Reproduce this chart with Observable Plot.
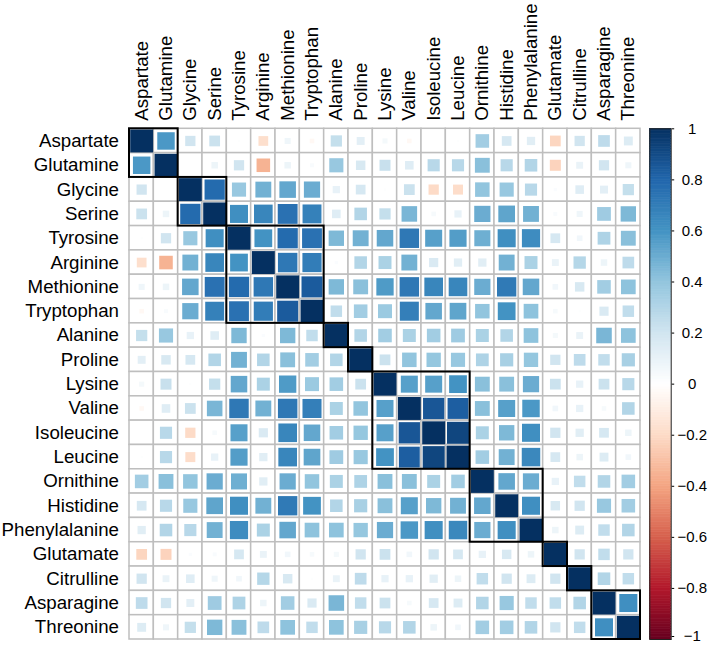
<!DOCTYPE html>
<html><head><meta charset="utf-8">
<script src="https://cdn.jsdelivr.net/npm/d3@7"></script>
<script src="https://cdn.jsdelivr.net/npm/@observablehq/plot@0.6"></script>
<style>
body{margin:0;background:#fff;}
#wrap{position:relative;width:708px;height:645px;overflow:hidden;font-family:"Liberation Sans",Arial,sans-serif;}
#wrap svg{position:absolute;top:0;}
</style></head><body><div id="wrap"></div>
<script>
const names = ["Aspartate","Glutamine","Glycine","Serine","Tyrosine","Arginine","Methionine","Tryptophan","Alanine","Proline","Lysine","Valine","Isoleucine","Leucine","Ornithine","Histidine","Phenylalanine","Glutamate","Citrulline","Asparagine","Threonine"];

// upper triangle: row i holds correlations with columns i+1 .. 20
const upper = [
  [0.58, 0.2, 0.22, 0.01, -0.18, 0.07, -0.04, 0.24, 0.12, 0.05, -0.04, 0.0, 0.01, 0.35, 0.18, 0.13, -0.22, 0.2, 0.26, 0.15],
  [0.0, 0.08, 0.2, -0.35, 0.08, 0.03, 0.38, 0.17, 0.23, 0.14, 0.28, 0.28, 0.42, 0.28, 0.3, -0.23, 0.09, 0.2, 0.07],
  [0.78, 0.38, 0.48, 0.52, 0.5, 0.1, 0.18, 0.01, 0.22, -0.2, -0.19, 0.4, 0.38, 0.28, 0.02, 0.14, 0.12, 0.24],
  [0.62, 0.66, 0.75, 0.68, 0.14, 0.3, 0.24, 0.46, 0.04, 0.1, 0.5, 0.53, 0.48, 0.03, 0.07, 0.36, 0.45],
  [0.6, 0.78, 0.75, 0.45, 0.48, 0.52, 0.72, 0.55, 0.56, 0.49, 0.62, 0.63, 0.18, 0.06, 0.31, 0.42],
  [0.72, 0.7, 0.02, 0.3, 0.32, 0.48, 0.16, 0.13, 0.13, 0.48, 0.32, 0.09, 0.29, 0.08, 0.26],
  [0.84, 0.45, 0.42, 0.57, 0.72, 0.66, 0.66, 0.5, 0.71, 0.52, 0.06, 0.17, 0.35, 0.41],
  [0.25, 0.35, 0.37, 0.69, 0.52, 0.53, 0.4, 0.6, 0.41, 0.04, 0.01, 0.16, 0.25],
  [0.3, 0.35, 0.32, 0.35, 0.36, 0.32, 0.3, 0.41, 0.05, 0.09, 0.46, 0.41],
  [0.22, 0.4, 0.39, 0.38, 0.31, 0.33, 0.39, 0.2, 0.26, 0.25, 0.33],
  [0.55, 0.55, 0.6, 0.42, 0.42, 0.5, 0.22, 0.1, 0.22, 0.28],
  [0.86, 0.83, 0.42, 0.55, 0.58, 0.06, 0.1, 0.04, 0.3],
  [0.92, 0.32, 0.45, 0.62, 0.2, 0.13, 0.18, 0.08],
  [0.35, 0.48, 0.65, 0.18, 0.08, 0.15, 0.06],
  [0.52, 0.5, 0.1, 0.25, 0.3, 0.35],
  [0.62, 0.17, 0.2, 0.38, 0.35],
  [0.08, 0.15, 0.25, 0.3],
  [0.2, 0.25, 0.2],
  [0.3, 0.25],
  [0.62]
];

const clusterSizes = [2, 2, 4, 1, 1, 4, 3, 1, 1, 2];
const paletteStops = ["#67001F","#B2182B","#D6604D","#F4A582","#FDDBC7","#FFFFFF","#D1E5F0","#92C5DE","#4393C3","#2166AC","#053061"];
const legendTicks = [1, 0.8, 0.6, 0.4, 0.2, 0, -0.2, -0.4, -0.6, -0.8, -1];

const n = names.length;
const cells = [];
for (let i = 0; i < n; i++) for (let j = 0; j < n; j++) {
  const v = i === j ? 1 : (i < j ? upper[i][j - i - 1] : upper[j][i - j - 1]);
  cells.push({row: i, col: j, v});
}
const clusters = [];
{ let s = 0; for (const size of clusterSizes) { clusters.push({start: s, end: s + size}); s += size; } }

const colorScale = {type: "linear", domain: paletteStops.map((_, k) => -1 + k * 0.2), range: paletteStops, interpolate: "rgb", clamp: true};

const W = 708, H = 645, mL = 129, mT = 128.3, mR = 68, mB = H - 639;
const cellSize = (W - mL - mR) / n;
const fontFamily = "Liberation Sans, Arial, Helvetica, sans-serif";
const centers = d3.range(n).map(i => i + 0.5);

const main = Plot.plot({
  width: W, height: H,
  marginLeft: mL, marginRight: mR, marginTop: mT, marginBottom: mB,
  style: {fontFamily, color: "black", background: "transparent"},
  x: {domain: [0, n]},
  y: {domain: [0, n], reverse: true},
  color: colorScale,
  r: {type: "sqrt", domain: [0, 1], range: [0, (cellSize - 1.4) / Math.sqrt(Math.PI)]},
  marks: [
    Plot.rect(cells, {x1: d => d.col, x2: d => d.col + 1, y1: d => d.row, y2: d => d.row + 1, fill: "white", stroke: "#bebebe", strokeWidth: 1.5}),
    Plot.dot(cells, {x: d => d.col + 0.5, y: d => d.row + 0.5, r: d => Math.abs(d.v), fill: d => d.v, symbol: "square"}),
    Plot.rect(clusters, {x1: "start", x2: "end", y1: "start", y2: "end", fill: "none", stroke: "black", strokeWidth: 2}),
    Plot.axisX({anchor: "top", ticks: centers, tickFormat: t => names[Math.floor(t)], tickRotate: -90, tickSize: 0, tickPadding: 8, fontSize: 18.7, label: null}),
    Plot.axisY({anchor: "left", ticks: centers, tickFormat: t => names[Math.floor(t)], tickSize: 0, tickPadding: 10.5, fontSize: 18.7, label: null})
  ]
});

const barData = d3.range(200).map(k => ({y1: -1 + k * 0.01, y2: -1 + (k + 1) * 0.01, v: -1 + (k + 0.5) * 0.01}));
const fmt = d => (d < 0 ? "\u2212" : "") + String(Math.abs(+d.toFixed(1)));
const lastTick = legendTicks.slice(-1);

const bar = Plot.plot({
  width: 68, height: H,
  marginLeft: 9.3, marginRight: 37.3, marginTop: mT, marginBottom: mB,
  style: {fontFamily, color: "black", background: "transparent"},
  x: {domain: [0, 1], axis: null},
  y: {domain: [-1, 1]},
  color: colorScale,
  marks: [
    Plot.rect(barData, {x1: 0, x2: 1, y1: "y1", y2: "y2", fill: "v", stroke: "v", strokeWidth: 0.6}),
    Plot.frame({stroke: "#222", strokeWidth: 1}),
    Plot.axisY({anchor: "right", ticks: legendTicks.slice(0, -1), tickFormat: fmt, tickSize: 2.5, tickPadding: 18.5, textAnchor: "middle", fontSize: 15, label: null}),
    Plot.axisY({anchor: "right", ticks: lastTick, tickFormat: fmt, tickSize: 2.5, tickPadding: 18.5, textAnchor: "middle", fontSize: 15, label: null, dy: -3})
  ]
});

const wrap = document.getElementById("wrap");
main.style.left = "0px";
bar.style.left = "640px";
wrap.appendChild(main);
wrap.appendChild(bar);
</script>
</body></html>
